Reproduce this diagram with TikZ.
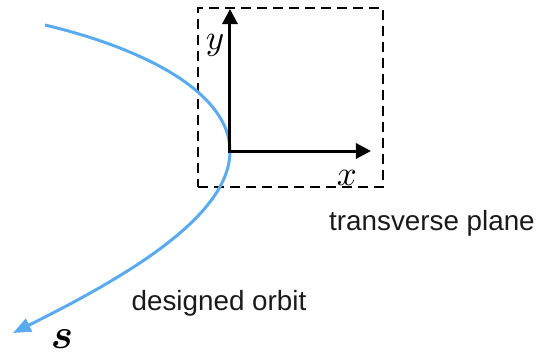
\documentclass[tikz,border=0pt]{standalone}
\usepackage{amsmath}
\usepackage{fontspec}
\setsansfont{Liberation Sans}
\usetikzlibrary{arrows.meta}
\definecolor{orbitblue}{HTML}{5AAAF0}
\definecolor{ink}{HTML}{1A1A1A}

\begin{document}
\begin{tikzpicture}[
  x=0.5pt, y=-0.5pt,
  axes/.style={{Triangle[length=7.5pt,width=7.5pt]}-{Triangle[length=7.5pt,width=7.5pt]}, line width=1.5pt, draw=black},
  orbit/.style={-{Triangle[length=9pt,width=7pt]}, line width=1.5pt, draw=orbitblue},
  plane/.style={draw=black, dash pattern=on 5pt off 3pt, line width=0.7pt, minimum width=92.5pt, minimum height=89.5pt, inner sep=0pt},
  lbl/.style={font=\sffamily\fontsize{13.9}{16}\selectfont, text=ink, inner sep=0pt},
  sym/.style={inner sep=0pt, scale=1.75}
]
\useasboundingbox (0,0) rectangle (538,354);

% Transverse plane
\node[plane] (plane) at (290.5,97.5) {};

% Orbit
\coordinate (o) at (230,151);
\coordinate (orbitin) at (45,25);
\coordinate (orbitout) at (13,333);
\draw[orbit] (orbitin) .. controls (150,50) and (230,95) .. (o)
  .. controls (230,215) and (130,275) .. (orbitout);

% Axes
\coordinate (ytip) at (230,9);
\coordinate (xtip) at (371,151);
\draw[axes] (ytip) -- (o) -- (xtip);

% Labels
\node[sym] (ylbl) at (215,45.5) {$y$};
\node[sym] (xlbl) at (347,178) {$x$};
\node[inner sep=0pt, scale=2.1] (slbl) at (62,339) {$\boldsymbol{s}$};
\node[lbl] (planelbl) at (432,223.5) {transverse plane};
\node[lbl] (orbitlbl) at (219,303.5) {designed orbit};
\end{tikzpicture}
\end{document}
